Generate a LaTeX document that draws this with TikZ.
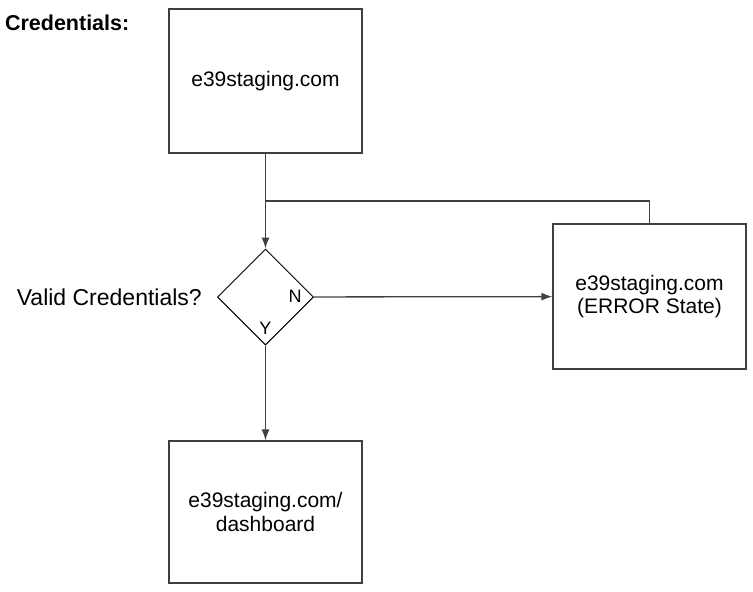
\documentclass[tikz,border=0pt]{standalone}
\usepackage{fontspec}
\setmainfont{Liberation Sans}
\usetikzlibrary{shapes.geometric,arrows.meta}

\begin{document}
\begin{tikzpicture}[x=1pt,y=-1pt,
                every path/.style={>={Latex[length=11pt,width=8pt]}},
                page/.style={draw=black!75,line width=1.3pt,minimum width=193pt,align=center,
                             font=\fontsize{21}{23.5}\selectfont},
                choice/.style={draw,diamond,line width=1pt,minimum width=96pt,minimum height=96pt,inner sep=0pt},
                link/.style={draw=black!75,line width=1.3pt}]
  \useasboundingbox (0,0) rectangle (753,592);
  \node[page,minimum height=144pt] (top)  at (265.5,81)  {e39staging.com};
  \node[choice]                    (dec)  at (265.5,297) {};
  \node[page,minimum height=145pt] (err)  at (649.5,296.5) {e39staging.com\\(ERROR State)};
  \node[page,minimum height=142pt] (dash) at (265.5,512) {e39staging.com/\\dashboard};
  % labels
  \node[anchor=east,inner sep=0pt,font=\fontsize{21.5}{26}\selectfont\bfseries] (cred) at (129.5,23) {Credentials:};
  \node[anchor=east,inner sep=0pt,font=\fontsize{23}{27}\selectfont]            (q)    at (202,297) {Valid Credentials?};
  \node[font=\fontsize{18}{20}\selectfont] (n) at (295,296) {N};
  \node[font=\fontsize{18}{20}\selectfont] (y) at (265.5,328) {Y};
  % connectors
  \coordinate (join) at (265.5,201);
  \draw[link,->] (top) -- (dec);
  \draw[link] (err.north) |- (join);
  \draw[link,->] (dec) -- (err);
  \draw[link,->] (dec) -- (dash);
\end{tikzpicture}
\end{document}
